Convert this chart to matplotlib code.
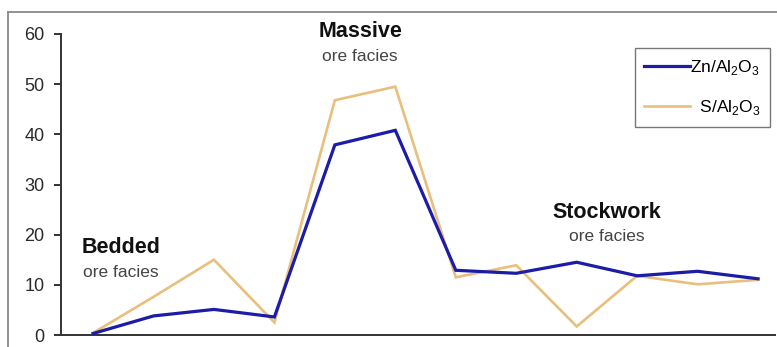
import matplotlib.pyplot as plt
from matplotlib.lines import Line2D

plt.rcParams["font.family"] = ["Liberation Sans", "DejaVu Sans"]
plt.rcParams["mathtext.fontset"] = "custom"
plt.rcParams["mathtext.rm"] = "Liberation Sans"

# Sample sequence through the three ore facies
samples = list(range(12))
zn_al2o3 = [0.3, 3.8, 5.1, 3.6, 37.9, 40.8, 12.9, 12.3, 14.5, 11.8, 12.7, 11.2]
s_al2o3 = [0.4, 7.6, 15.0, 2.5, 46.8, 49.5, 11.5, 13.9, 1.7, 11.8, 10.1, 11.0]
y_ticks = [0, 10, 20, 30, 40, 50, 60]

# Facies labels: (name, x position, y of name, y of subtitle)
facies = [
    ("Bedded", 0.46, 17.4, 12.4),
    ("Massive", 4.42, 60.4, 55.6),
    ("Stockwork", 8.5, 24.4, 19.6),
]

fig = plt.figure(figsize=(7.77, 3.47), dpi=100)
ax = fig.add_axes([61 / 777, 12 / 347, 714 / 777, 301 / 347])

ax.plot(samples, zn_al2o3, color="#1c1ca6", lw=2.3, label="Zn/Al$_\\mathregular{2}$O$_\\mathregular{3}$",
        solid_joinstyle="miter", zorder=3)
ax.plot(samples, s_al2o3, color="#e8bf7c", lw=1.9, label="  S/Al$_\\mathregular{2}$O$_\\mathregular{3}$",
        solid_joinstyle="miter", zorder=2)

ax.set_xlim(-0.53, 11.28)
ax.set_ylim(0, 60)
ax.set_yticks(y_ticks)
ax.set_xticks([])

for side in ("top", "right"):
    ax.spines[side].set_visible(False)
for side in ("left", "bottom"):
    ax.spines[side].set_color("#333333")
    ax.spines[side].set_linewidth(1.4)
ax.tick_params(axis="y", direction="out", length=5, width=1.4,
               color="#333333", labelcolor="#2a2a2a", labelsize=13, pad=7)

for name, x, y_name, y_sub in facies:
    ax.text(x, y_name, name, ha="center", va="center", fontsize=15.5,
            fontweight="bold", color="#111111", clip_on=False)
    ax.text(x, y_sub, "ore facies", ha="center", va="center", fontsize=12.5,
            color="#444444", clip_on=False)

leg = ax.legend(loc="upper right", bbox_to_anchor=(0.993, 0.953),
                borderaxespad=0, fontsize=12.5, labelspacing=1.25,
                handlelength=2.6, handletextpad=0.0, borderpad=0.55,
                fancybox=False, edgecolor="#555555")
leg.get_frame().set_linewidth(1.0)

# Gray frame around the figure
fig.add_artist(Line2D([8 / 777, 1], [1 - 12 / 347, 1 - 12 / 347],
                      transform=fig.transFigure, color="#8a8a8a", lw=1.3))
fig.add_artist(Line2D([8 / 777, 8 / 777], [0, 1 - 12 / 347],
                      transform=fig.transFigure, color="#8a8a8a", lw=1.3))

fig.savefig("out.png", dpi=100)
